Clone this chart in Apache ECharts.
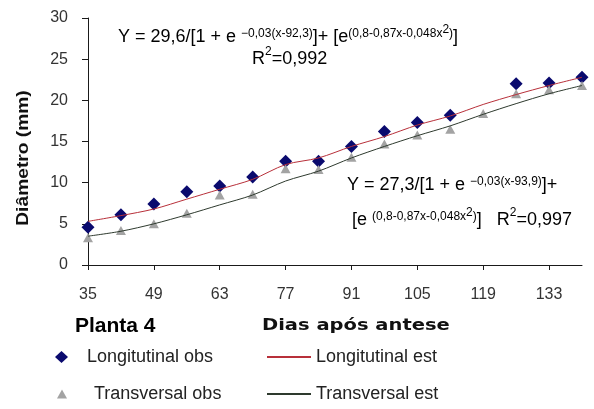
<!DOCTYPE html>
<html>
<head>
<meta charset="utf-8">
<script src="https://cdn.jsdelivr.net/npm/echarts@6/dist/echarts.min.js"></script>
<style>
html,body{margin:0;padding:0;background:#fff;}
#c{width:594px;height:409px;}
</style>
</head>
<body>
<div id="c"></div>
<script>
var days = [35,42,49,56,63,70,77,84,91,98,105,112,119,126,133,140];
var longObs = [4.6,6.1,7.4,8.9,9.6,10.7,12.6,12.6,14.4,16.2,17.3,18.2,null,22.0,22.1,22.8];
var transObs = [3.3,4.2,5.0,6.3,8.5,8.6,11.7,11.6,13.1,14.7,15.8,16.5,18.4,20.8,21.3,21.8];
var longEst = [5.3,6.0,6.8,8.0,9.2,10.4,12.2,13.0,14.4,15.6,17.0,18.1,19.5,20.7,21.8,22.8];
var transEst = [3.5,4.1,5.0,6.1,7.3,8.5,10.2,11.4,13.0,14.4,15.7,16.9,18.3,19.6,20.8,21.8];
var yTicks = {min:0, max:30, interval:5};

var FONT = '"Liberation Sans", Arial, sans-serif';
var AX = '#1a1a1a';
var chart = echarts.init(document.getElementById('c'), null, {renderer:'canvas'});

var eqRich = {
  m: {fontSize:18, fontFamily:FONT, color:'#111', lineHeight:22, verticalAlign:'bottom'},
  s: {fontSize:12, fontFamily:FONT, color:'#111', lineHeight:12, verticalAlign:'top', padding:[4,0,0,0]},
  ss:{fontSize:12, fontFamily:FONT, color:'#111', lineHeight:12, verticalAlign:'top', padding:[0,0,0,0]}
};

function legendBox(name, left, top, w, h, padLeft) {
  return {
    data:[name], left:left, top:top, itemWidth:w, itemHeight:h, itemGap:0,
    textStyle:{fontSize:18, fontFamily:FONT, color:'#222', padding:[0,0,0,padLeft]},
    selectedMode:false
  };
}

var textGraphics = [
  {type:'text', left:118, top:24, style:{
    text:'{m|Y = 29,6/[1 + e }{s|−0,03(x-92,3)}{m|]+ [e}{s|(0,8-0,87x-0,048x}{ss|2}{s|)}{m|]}',
    rich:eqRich}},
  {type:'text', left:252, top:46, style:{
    text:'{m|R}{ss|2}{m|=0,992}', rich:eqRich}},
  {type:'text', left:347, top:172, style:{
    text:'{m|Y = 27,3/[1 + e }{s|−0,03(x-93,9)}{m|]+}', rich:eqRich}},
  {type:'text', left:352, top:207, style:{
    text:'{m|[e }{s|(0,8-0,87x-0,048x}{ss|2}{s|)}{m|]   R}{ss|2}{m|=0,997}', rich:eqRich}},
  {type:'text', x:24, y:158, rotation:Math.PI/2, scaleX:1.2, style:{
    text:'Diâmetro (mm)', font:'bold 16px "Liberation Sans", Arial, sans-serif',
    fill:'#111', align:'center', verticalAlign:'middle'}},
  {type:'text', x:262, y:326, scaleX:1.3, style:{
    text:'Dias após antese', font:'bold 15px "DejaVu Sans", Verdana, sans-serif', fill:'#111',
    align:'left', verticalAlign:'middle'}},
  {type:'text', x:75, y:326, style:{
    text:'Planta 4', font:'bold 21px "Liberation Sans", Arial, sans-serif', fill:'#000',
    align:'left', verticalAlign:'middle'}}
];

function makeOption(extraGraphics) {
  return {
    backgroundColor:'#fff',
    animation:false,
    grid:{left:88, right:12, top:18, bottom:144},
    xAxis:{
      type:'category', data:days, boundaryGap:false,
      axisLine:{show:true, onZero:false, lineStyle:{color:AX, width:1}},
      axisTick:{show:true, interval:1, length:5, lineStyle:{color:AX, width:1}},
      axisLabel:{interval:1, margin:22, fontSize:16, fontFamily:FONT, color:'#333'},
      splitLine:{show:false}
    },
    yAxis:{
      type:'value', min:yTicks.min, max:yTicks.max, interval:yTicks.interval,
      axisLine:{show:true, onZero:false, lineStyle:{color:AX, width:1}},
      axisTick:{show:true, length:6, lineStyle:{color:AX, width:1}},
      axisLabel:{margin:20, fontSize:16, fontFamily:FONT, color:'#333'},
      splitLine:{show:false}
    },
    legend:[
      legendBox('Longitutinal obs', 50, 343, 13, 12, 14),
      legendBox('Longitutinal est', 261, 343, 44, 2, 0),
      legendBox('Transversal obs', 52, 380, 10, 9, 22),
      legendBox('Transversal est', 261, 380, 44, 2, 0)
    ],
    series:[
      {name:'Longitutinal est', type:'line', data:longEst, smooth:0.3, symbol:'none',
       lineStyle:{color:'#b8303a', width:1}, itemStyle:{color:'#b8303a'}},
      {name:'Transversal est', type:'line', data:transEst, smooth:0.3, symbol:'none',
       lineStyle:{color:'#2e3a2e', width:1}, itemStyle:{color:'#2e3a2e'}},
      {name:'Longitutinal obs', type:'scatter', data:longObs, symbol:'diamond', symbolSize:[13,13],
       itemStyle:{color:'#0a0a6e', opacity:1}},
      {name:'Transversal obs', type:'scatter', data:transObs, symbol:'triangle', symbolSize:[10,9],
       itemStyle:{color:'#a3a3a3', opacity:1}}
    ],
    graphic:textGraphics.concat(extraGraphics || [])
  };
}

chart.setOption(makeOption(), true);

// Check whether the axis lines actually reached the canvas.
function isDarkAt(x, y) {
  var cs = document.querySelectorAll('#c canvas');
  for (var i = 0; i < cs.length; i++) {
    try {
      var d = cs[i].getContext('2d').getImageData(x, y, 1, 1).data;
      if (d[3] > 150 && d[0] < 120 && d[1] < 120 && d[2] < 120) return true;
    } catch (e) {}
  }
  return false;
}
function axesVisible() {
  var yOk = false, xOk = false, x, y;
  for (y = 120; y <= 160; y += 4) for (x = 85; x <= 91; x++) if (isDarkAt(x, y)) yOk = true;
  for (x = 300; x <= 320; x += 5) for (y = 260; y <= 270; y++) if (isDarkAt(x, y)) xOk = true;
  return xOk && yOk;
}

if (!axesVisible()) {
  // Fallback: draw the axis lines and ticks at positions taken from the chart's own axes.
  var x0 = chart.convertToPixel({xAxisIndex:0}, 0);
  var xN = chart.convertToPixel({xAxisIndex:0}, days.length - 1);
  var yB = chart.convertToPixel({yAxisIndex:0}, yTicks.min);
  var yT = chart.convertToPixel({yAxisIndex:0}, yTicks.max);
  var cx = Math.round(x0) + 0.5, cy = Math.round(yB) + 0.5;
  var axisGfx = [];
  var st = {stroke:AX, lineWidth:1};
  axisGfx.push({type:'line', z:50, silent:true, shape:{x1:cx, y1:Math.round(yT), x2:cx, y2:cy}, style:st});
  axisGfx.push({type:'line', z:50, silent:true, shape:{x1:cx, y1:cy, x2:Math.round(xN) + 1, y2:cy}, style:st});
  for (var v = yTicks.min; v <= yTicks.max; v += yTicks.interval) {
    var py = Math.round(chart.convertToPixel({yAxisIndex:0}, v)) + 0.5;
    axisGfx.push({type:'line', z:50, silent:true, shape:{x1:cx - 6, y1:py, x2:cx, y2:py}, style:st});
  }
  for (var k = 0; k < days.length; k += 2) {
    var px = Math.round(chart.convertToPixel({xAxisIndex:0}, k)) + 0.5;
    axisGfx.push({type:'line', z:50, silent:true, shape:{x1:px, y1:cy, x2:px, y2:cy + 5}, style:st});
  }
  chart.setOption(makeOption(axisGfx), true);
}
</script>
</body>
</html>
